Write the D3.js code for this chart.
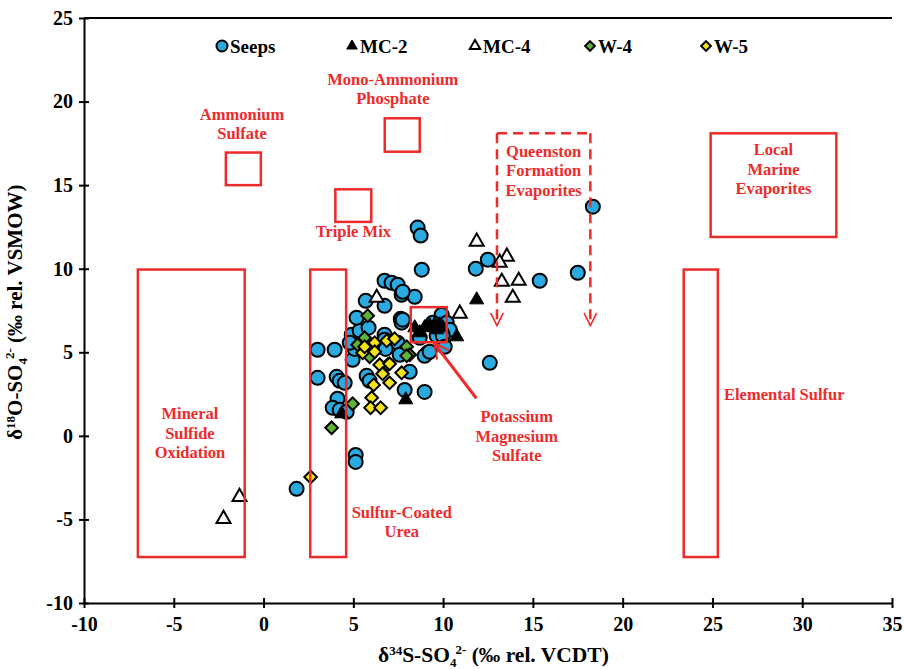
<!DOCTYPE html>
<html>
<head>
<meta charset="utf-8">
<script src="https://cdn.jsdelivr.net/npm/d3@7"></script>
<style>
  body { margin: 0; background: #fff; }
  svg text { font-family: "Liberation Serif", "Times New Roman", serif !important; font-weight: bold !important; }
</style>
</head>
<body>
<script>
// data: [d34S, d18O]
const seeps = [
  [1.84,-3.17],[5.13,-1.14],[5.13,-1.56],[3.01,5.15],[3.96,5.15],[3.01,3.47],[4.07,3.53],
  [4.24,3.29],[4.52,3.17],[4.12,2.22],[3.85,1.68],[4.24,1.56],[4.63,1.44],[4.96,4.55],
  [5.74,3.59],[5.91,3.29],[7.86,2.75],[8.97,2.63],[4.91,6.05],[5.35,6.29],[5.18,7.07],
  [5.85,6.47],[5.69,8.08],[6.74,7.78],[6.74,9.28],[7.13,9.16],[7.47,9.04],[7.69,8.44],
  [8.42,8.32],[7.64,7.0],[7.69,6.77],[6.74,6.05],[6.74,5.75],[7.47,5.57],[8.58,12.46],
  [8.75,11.98],[8.81,9.94],[11.82,10.0],[12.49,10.54],[15.38,9.28],[17.5,9.76],[18.34,13.71],
  [12.6,4.37],[9.92,7.25],[9.42,6.77],[10.2,6.77],[10.37,6.35],[8.7,5.87],[9.64,5.99],
  [9.98,5.99],[9.14,4.97],[8.97,4.79],[10.09,5.33],[7.75,6.95],[9.25,5.03],[7.75,8.62],
  [6.8,5.2],[7.58,4.85],[8.14,3.83],[5.07,5.2],[4.8,5.57]
];
const mc2 = [
  [4.35,1.32],[7.92,2.16],[11.87,8.14],[10.76,5.93],[8.42,6.47],[8.97,6.47],[9.25,6.59],
  [9.53,6.65],[9.81,6.65],[9.98,6.47],[9.64,6.35],[8.7,6.17]
];
const mc4 = [
  [-2.23,-4.97],[-1.34,-3.65],[6.3,8.26],[11.87,11.62],[10.93,7.31],[13.55,10.72],
  [13.15,10.36],[13.27,9.22],[14.21,9.28],[13.88,8.26]
];
const w4 = [
  [5.8,7.19],[5.63,5.87],[7.97,5.33],[8.14,4.85],[5.91,4.73],[6.91,4.25],[4.96,1.92],
  [3.79,0.48],[7.97,4.79],[5.24,5.45]
];
const w5 = [
  [6.19,5.57],[6.86,5.69],[7.3,5.81],[5.52,4.97],[6.19,5.03],[6.47,4.25],[7.02,4.31],
  [7.69,3.77],[7.02,3.17],[6.13,3.05],[6.02,2.28],[5.96,1.68],[6.52,1.68],[6.63,3.71],
  [2.62,-2.46],[5.63,5.33]
];
// source boxes: [x0, x1, y0, y1]
const boxes = [
  [-7, -1.05, -7.25, 9.95],   // Mineral Sulfide Oxidation
  [2.6, 4.6, -7.25, 9.95],    // Sulfur-Coated Urea
  [23.4, 25.3, -7.25, 9.95],  // Elemental Sulfur
  [24.9, 31.9, 11.9, 18.1],   // Local Marine Evaporites
  [-2.1, -0.15, 15.0, 16.95], // Ammonium Sulfate
  [6.75, 8.7, 17.0, 19.0],    // Mono-Ammonium Phosphate
  [4.0, 6.0, 12.8, 14.75],    // Triple Mix
  [8.2, 10.2, 5.6, 7.7]       // Potassium Magnesium Sulfate
];
// Queenston Formation Evaporites (dashed, open bottom)
const queenston = { x0: 13.0, x1: 18.2, top: 18.1, bottom: 6.6 };
const labels = [
  { x: -4.1, y: 1.0, lines: ["Mineral", "Sulfide", "Oxidation"] },
  { x: 7.7, y: -4.9, lines: ["Sulfur-Coated", "Urea"] },
  { x: 29.0, y: 2.15, lines: ["Elemental Sulfur"] },
  { x: 28.4, y: 16.8, lines: ["Local", "Marine", "Evaporites"] },
  { x: -1.2, y: 18.9, lines: ["Ammonium", "Sulfate"] },
  { x: 7.2, y: 21.0, lines: ["Mono-Ammonium", "Phosphate"] },
  { x: 5.0, y: 11.9, lines: ["Triple Mix"] },
  { x: 15.6, y: 16.7, lines: ["Queenston", "Formation", "Evaporites"] },
  { x: 14.1, y: 0.8, lines: ["Potassium", "Magnesium", "Sulfate"] }
];
const kmsArrow = [[11.85, 2.25], [9.5, 5.55]];
const xTicks = [-10, -5, 0, 5, 10, 15, 20, 25, 30, 35];
const yTicks = [-10, -5, 0, 5, 10, 15, 20, 25];

const W = 904, H = 669;
const margin = { left: 84, right: 12, top: 18, bottom: 66 };
const red = "#ee2b2b";

const svg = d3.select("body").append("svg").attr("width", W).attr("height", H);
const x = d3.scaleLinear().domain([-10, 35]).range([margin.left, W - margin.right]);
const y = d3.scaleLinear().domain([-10, 25]).range([H - margin.bottom, margin.top]);

// axes
const xAxis = svg.append("g").attr("transform", `translate(0,${y(-10)})`)
  .call(d3.axisBottom(x).tickValues(xTicks).tickSize(5).tickSizeOuter(0).tickFormat(d => String(d)));
const yAxis = svg.append("g").attr("transform", `translate(${x(-10)},0)`)
  .call(d3.axisLeft(y).tickValues(yTicks).tickSize(5).tickSizeOuter(0).tickFormat(d => String(d)));
[xAxis, yAxis].forEach(a => {
  a.attr("font-family", null).attr("font-size", null);
  a.select(".domain").attr("stroke", "#000").attr("stroke-width", 2);
  a.selectAll(".tick line").attr("stroke", "#000").attr("stroke-width", 2);
  a.selectAll(".tick text").attr("font-size", 20).attr("fill", "#000");
});
xAxis.selectAll(".tick line").attr("y1", -5);
yAxis.selectAll(".tick line").attr("x1", 5).attr("x2", -5);
xAxis.selectAll(".tick text").attr("dy", "1.0em");
yAxis.selectAll(".tick text").attr("x", -11);
svg.append("line").attr("x1", x(-10)).attr("x2", x(35)).attr("y1", y(25)).attr("y2", y(25))
  .attr("stroke", "#000").attr("stroke-width", 2);

// axis titles
function isoTitle(t, el, sup, rest) {
  t.append("tspan").text("δ");
  t.append("tspan").text(sup).attr("font-size", 13).attr("dy", -7);
  t.append("tspan").text(el + "-SO").attr("dy", 7);
  t.append("tspan").text("4").attr("font-size", 13).attr("dy", 5);
  t.append("tspan").text("2-").attr("font-size", 13).attr("dy", -13).attr("dx", -1);
  t.append("tspan").text(rest).attr("dy", 8);
}
const xt = svg.append("text").attr("x", x(12.8)).attr("y", 662).attr("text-anchor", "middle").attr("font-size", 21.5);
isoTitle(xt, "S", "34", " (‰ rel. VCDT)");
const yt = svg.append("text").attr("transform", `translate(22,${y(7.4)}) rotate(-90)`)
  .attr("text-anchor", "middle").attr("font-size", 21);
isoTitle(yt, "O", "18", " (‰ rel. VSMOW)");

// markers
const tri = d3.symbol().type(d3.symbolTriangle).size(85);
const dia = d3.symbol().type(d3.symbolSquare).size(80);
const series = [
  { name: "Seeps", data: seeps, draw: g => g.append("circle").attr("r", 7).attr("fill", "#29abe2").attr("stroke", "#000").attr("stroke-width", 2) },
  { name: "MC-2", data: mc2, draw: g => g.append("path").attr("d", tri).attr("fill", "#000").attr("stroke", "#000").attr("stroke-width", 1) },
  { name: "MC-4", data: mc4, draw: g => g.append("path").attr("d", tri).attr("fill", "#fff").attr("stroke", "#000").attr("stroke-width", 2) },
  { name: "W-4", data: w4, draw: g => g.append("path").attr("d", dia).attr("transform", "rotate(45)").attr("fill", "#5fb236").attr("stroke", "#000").attr("stroke-width", 2) },
  { name: "W-5", data: w5, draw: g => g.append("path").attr("d", dia).attr("transform", "rotate(45)").attr("fill", "#f4e21a").attr("stroke", "#000").attr("stroke-width", 2) }
];
series.forEach(s => {
  svg.append("g").selectAll("g").data(s.data).join("g")
    .attr("transform", d => `translate(${x(d[0])},${y(d[1])})`)
    .each(function () { s.draw(d3.select(this)); });
});

// source boxes
svg.append("g").selectAll("rect").data(boxes).join("rect")
  .attr("x", d => x(d[0])).attr("y", d => y(d[3]))
  .attr("width", d => x(d[1]) - x(d[0])).attr("height", d => y(d[2]) - y(d[3]))
  .attr("fill", "none").attr("stroke", red).attr("stroke-width", 2.5);

svg.append("defs").append("marker").attr("id", "arr").attr("viewBox", "0 0 12 12")
  .attr("refX", 11).attr("refY", 6).attr("markerWidth", 6).attr("markerHeight", 6)
  .attr("markerUnits", "strokeWidth").attr("orient", "auto")
  .append("path").attr("d", "M1,1 L11,6 L1,11").attr("fill", "none").attr("stroke", red).attr("stroke-width", 1.3);

const q = queenston;
svg.append("path")
  .attr("d", `M${x(q.x0)},${y(q.top)}H${x(q.x1)}`)
  .attr("fill", "none").attr("stroke", red).attr("stroke-width", 2.5).attr("stroke-dasharray", "10,6");
[q.x0, q.x1].forEach(v => {
  svg.append("line").attr("x1", x(v)).attr("x2", x(v)).attr("y1", y(q.top)).attr("y2", y(q.bottom))
    .attr("stroke", red).attr("stroke-width", 2.5).attr("stroke-dasharray", "10,6")
    .attr("marker-end", "url(#arr)");
});
svg.append("line").attr("x1", x(kmsArrow[0][0])).attr("y1", y(kmsArrow[0][1]))
  .attr("x2", x(kmsArrow[1][0])).attr("y2", y(kmsArrow[1][1]))
  .attr("stroke", red).attr("stroke-width", 3).attr("marker-end", "url(#arr)");

// labels
labels.forEach(l => {
  const t = svg.append("text").attr("x", x(l.x)).attr("y", y(l.y)).attr("text-anchor", "middle")
    .attr("font-size", 16.5).attr("fill", red);
  l.lines.forEach((s, i) => t.append("tspan").attr("x", x(l.x)).attr("dy", i ? 19.5 : 0).text(s));
});

// legend
const legX = [222, 352, 475, 590, 706];
series.forEach((s, i) => {
  const g = svg.append("g").attr("transform", `translate(${legX[i]},46)`);
  s.draw(g);
  g.select("circle").attr("r", 5.5);
  g.select("path").attr("d", d3.symbol().type(s.name.startsWith("W") ? d3.symbolSquare : d3.symbolTriangle).size(48));
  g.append("text").attr("x", 8).attr("y", 6.5).attr("font-size", 19).text(s.name);
});
</script>
</body>
</html>
